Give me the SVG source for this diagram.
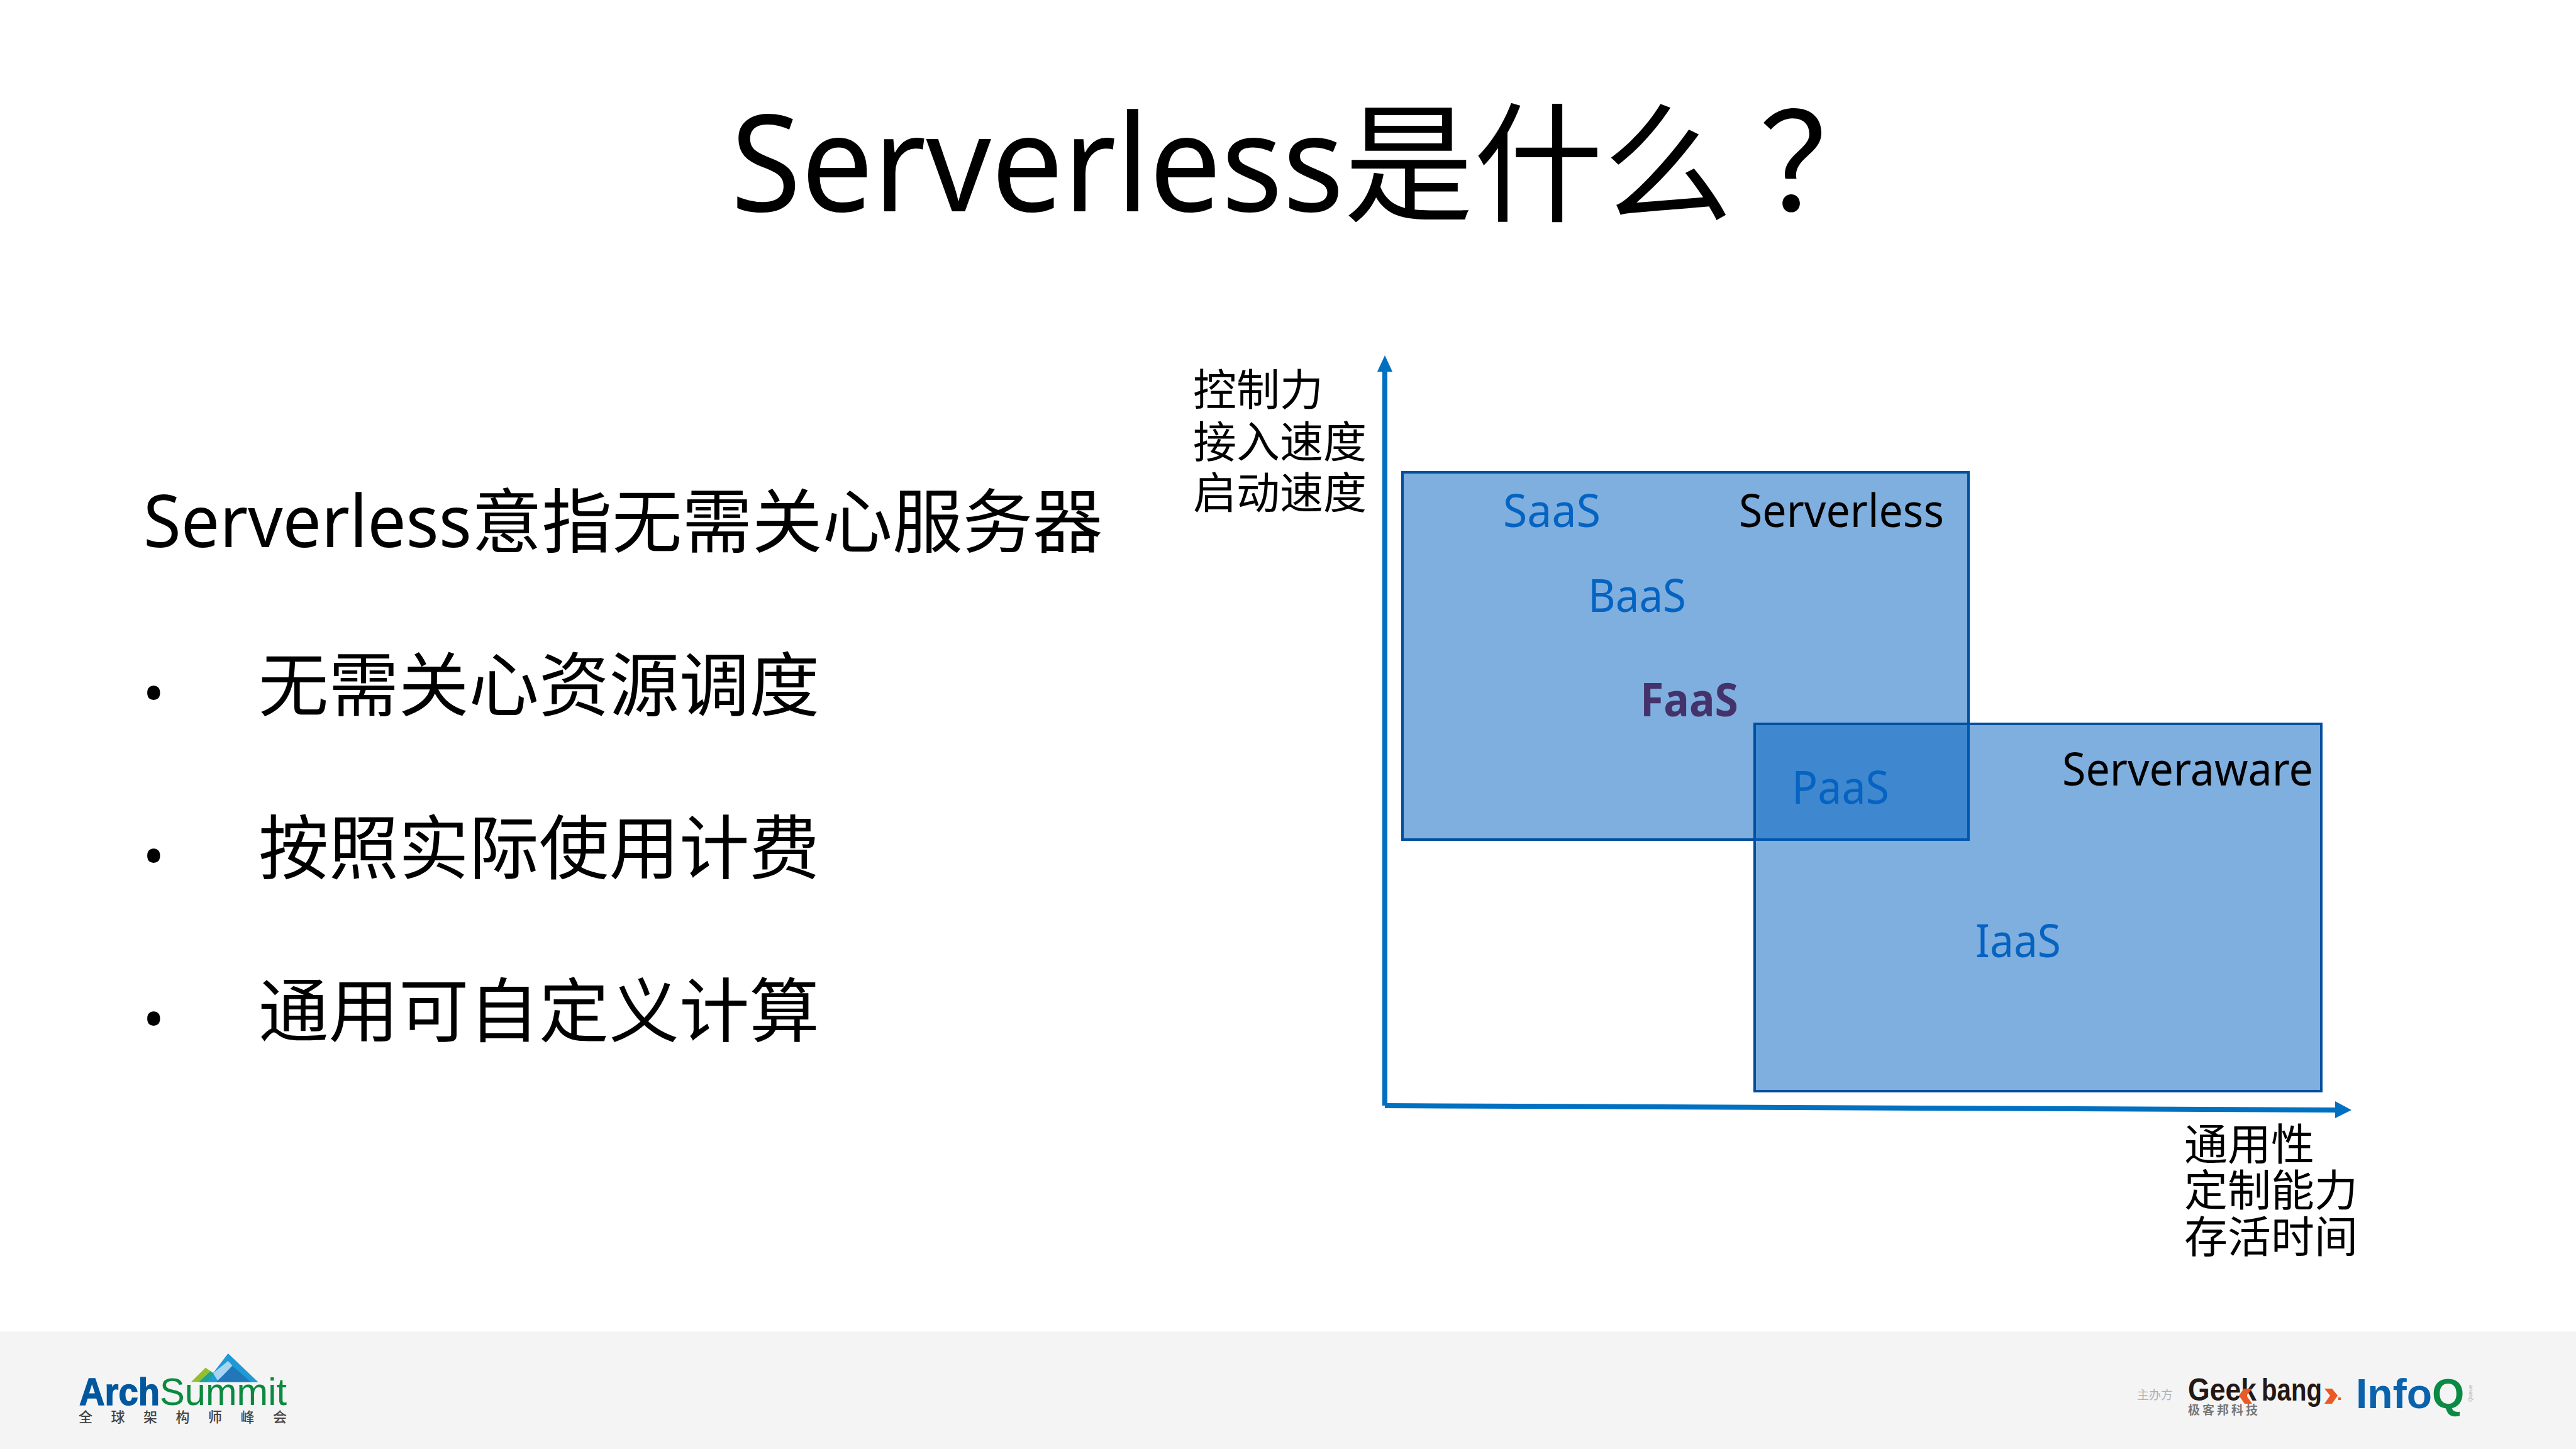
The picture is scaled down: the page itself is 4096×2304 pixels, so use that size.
<svg xmlns="http://www.w3.org/2000/svg" width="4096" height="2304" viewBox="0 0 4096 2304">
<style>
text{font-family:"Noto Sans","Noto Sans CJK SC",sans-serif;fill:#000}
.lb{font-size:69px}
.sv{font-size:73px}
.bl{fill:#0563c1}
.b{font-size:111.5px}
.bu{font-size:92px}
.box{fill:#0060bf;fill-opacity:.5;stroke:#004f9f;stroke-width:4}
.ax{fill:none;stroke:#0070c0;stroke-width:8}
.ah{fill:#0070c0}
.lg{font-family:"Liberation Sans","Noto Sans CJK SC",sans-serif}
</style>
<rect width="4096" height="2304" fill="#fff"/>
<rect id="footer" x="0" y="2117" width="4096" height="187" fill="#f4f4f4"/>
<text id="title" x="1162" y="336" font-size="206"><tspan font-size="214" textLength="975" lengthAdjust="spacingAndGlyphs">Serverless</tspan>是什么<tspan x="2797" font-size="215">？</tspan></text>
<g id="body">
<text class="b" x="228" y="870"><tspan font-size="116" textLength="522" lengthAdjust="spacingAndGlyphs">Serverless</tspan>意指无需关心服务器</text>
<text class="bu" x="227" y="1135">•</text>
<text class="b" x="411" y="1130">无需关心资源调度</text>
<text class="bu" x="227" y="1394">•</text>
<text class="b" x="411" y="1389">按照实际使用计费</text>
<text class="bu" x="227" y="1653">•</text>
<text class="b" x="411" y="1648">通用可自定义计算</text>
</g>
<g id="box-serverless"><rect class="box" x="2230" y="751" width="900" height="584"/></g>
<g id="box-serveraware"><rect class="box" x="2790" y="1151" width="901" height="584"/></g>
<g id="connectors">
<path class="ax" d="M2202 1758V588"/>
<path class="ah" d="M2202 565l-12 26h24z"/>
<path class="ax" d="M2202 1758L3716 1765"/>
<path class="ah" d="M3739 1765l-26-14v27z"/>
</g>
<g id="axis-y-label">
<text class="lb" x="1897" y="645">控制力</text>
<text class="lb" x="1897" y="728">接入速度</text>
<text class="lb" x="1897" y="809">启动速度</text>
</g>
<g id="axis-x-label">
<text class="lb" x="3473" y="1845">通用性</text>
<text class="lb" x="3473" y="1918">定制能力</text>
<text class="lb" x="3473" y="1992">存活时间</text>
</g>
<g id="labels">
<text class="sv bl" x="2390" y="838" textLength="155" lengthAdjust="spacingAndGlyphs">SaaS</text>
<text class="sv" x="2765" y="838" textLength="326" lengthAdjust="spacingAndGlyphs">Serverless</text>
<text class="sv bl" x="2525" y="973" textLength="156" lengthAdjust="spacingAndGlyphs">BaaS</text>
<text class="sv" x="2608" y="1139" font-weight="700" style="fill:#44336b" textLength="156" lengthAdjust="spacingAndGlyphs">FaaS</text>
<text class="sv bl" x="2849" y="1278" textLength="155" lengthAdjust="spacingAndGlyphs">PaaS</text>
<text class="sv" x="3279" y="1249" textLength="399" lengthAdjust="spacingAndGlyphs">Serveraware</text>
<text class="sv bl" x="3141" y="1522" textLength="136" lengthAdjust="spacingAndGlyphs">IaaS</text>
</g>
<g id="logo-archsummit">
<g transform="translate(80 2112) scale(.26667)">
<path d="M1060 150L1240 322H890L970 268z" fill="#1f9ad6"/>
<path d="M1060 195L1085 222L1000 315L970 268z" fill="#a5d5f0"/>
<path d="M1087 225L1195 320H990z" fill="#2277b9"/>
<path d="M840 320L925 235L955 255L885 320z" fill="#93c02a"/>
<path d="M885 320L955 255L975 270L935 320z" fill="#1aa38f"/>
</g>
<text class="lg" x="126" y="2234" font-size="62" style="fill:#00579e"><tspan font-weight="700" textLength="128" lengthAdjust="spacingAndGlyphs" stroke="#00579e" stroke-width="1.5">Arch</tspan><tspan x="254" textLength="202" lengthAdjust="spacingAndGlyphs" style="fill:#0b8a3f">Summit</tspan></text>
<text x="125" y="2261" font-size="22" font-weight="500" letter-spacing="29.5" style="fill:#444">全球架构师峰会</text>
</g>
<g id="logo-geekbang">
<text x="3398" y="2225" font-size="19" style="fill:#aab2b8">主办方</text>
<text class="lg" x="3479" y="2227" font-size="50" font-weight="700" style="fill:#231815" textLength="109" lengthAdjust="spacingAndGlyphs">Geek</text>
<path d="M3581 2208l-13 0l-8 11l9 13h12l-9-13z" fill="#e95a24"/>
<text class="lg" x="3596" y="2227" font-size="50" font-weight="700" style="fill:#231815" textLength="96" lengthAdjust="spacingAndGlyphs">bang</text>
<path d="M3696 2208l12 0l9 11l-9 13h-12l9-13z" fill="#e95a24"/>
<rect x="3718" y="2222" width="4" height="4" fill="#e95a24"/>
<text x="3479" y="2249" font-size="19" font-weight="700" letter-spacing="4" style="fill:#777">极客邦科技</text>
</g>
<g id="logo-infoq">
<text class="lg" x="3746" y="2239" font-size="66" font-weight="700" style="fill:#0a62ad">Info<tspan style="fill:#0a8a44">Q</tspan></text>
<text class="lg" transform="translate(3931 2229) rotate(-90)" font-size="9" style="fill:#aaa">Queue</text>
</g>
</svg>
